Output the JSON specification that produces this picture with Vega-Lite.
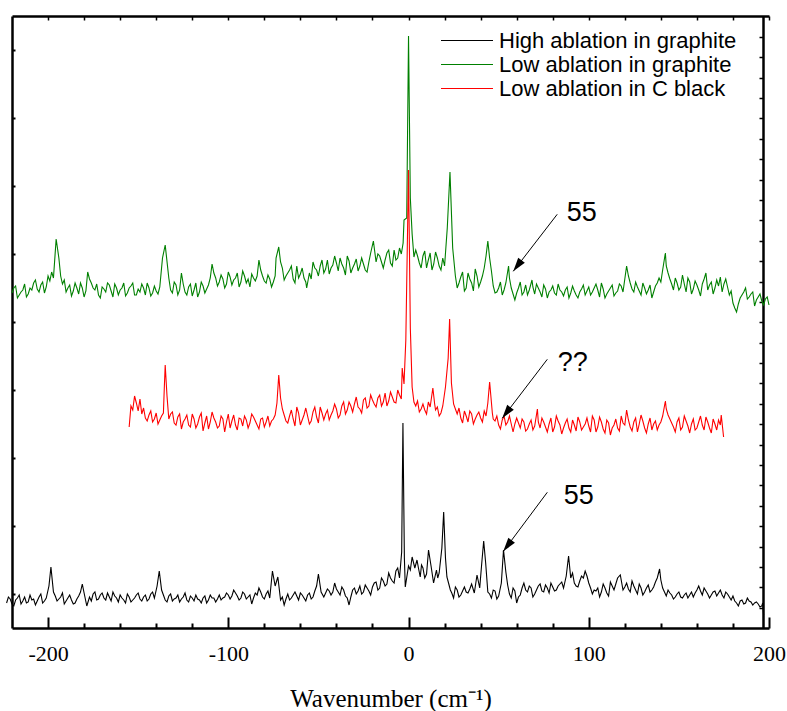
{
  "$schema": "https://vega.github.io/schema/vega-lite/v6.json",
  "width": 757,
  "height": 612,
  "autosize": "none",
  "padding": {"left": 12, "top": 16, "right": 18, "bottom": 83},
  "background": "white",
  "config": {
    "view": {"stroke": null},
    "axis": {"grid": false, "domainColor": "black", "tickColor": "black", "domainWidth": 2.5},
    "legend": {
      "orient": "none", "legendX": 428, "legendY": 13, "direction": "vertical",
      "symbolType": "stroke", "symbolSize": 2704, "symbolStrokeWidth": 1.2,
      "labelFont": "Liberation Sans", "labelFontSize": 22, "labelColor": "black", "labelLimit": 500,
      "labelOffset": 5, "clipHeight": 23, "rowPadding": 1, "padding": 0
    }
  },
  "datasets": {
    "spec": [
      {"s":"g","x":-220,"y":335},{"s":"g","x":-218,"y":342},{"s":"g","x":-216,"y":333},{"s":"g","x":-214,"y":338},{"s":"g","x":-212,"y":331},{"s":"g","x":-210,"y":340},{"s":"g","x":-208,"y":345},{"s":"g","x":-206,"y":339},{"s":"g","x":-204,"y":343},{"s":"g","x":-202,"y":335},{"s":"g","x":-200,"y":352},{"s":"g","x":-198,"y":356},{"s":"g","x":-197,"y":350},{"s":"g","x":-195.5,"y":389},{"s":"g","x":-194,"y":370},{"s":"g","x":-193,"y":352},{"s":"g","x":-191,"y":348},{"s":"g","x":-189,"y":340},{"s":"g","x":-187,"y":332},{"s":"g","x":-185,"y":345},{"s":"g","x":-183,"y":334},{"s":"g","x":-181,"y":340},{"s":"g","x":-179,"y":337},{"s":"g","x":-178,"y":356},{"s":"g","x":-176,"y":345},{"s":"g","x":-174,"y":338},{"s":"g","x":-172,"y":333},{"s":"g","x":-170,"y":341},{"s":"g","x":-168,"y":336},{"s":"g","x":-166,"y":343},{"s":"g","x":-164,"y":331},{"s":"g","x":-162,"y":340},{"s":"g","x":-160,"y":338},{"s":"g","x":-158,"y":345},{"s":"g","x":-156,"y":335},{"s":"g","x":-154,"y":342},{"s":"g","x":-152,"y":333},{"s":"g","x":-150,"y":339},{"s":"g","x":-148,"y":344},{"s":"g","x":-146,"y":333},{"s":"g","x":-144,"y":340},{"s":"g","x":-142,"y":335},{"s":"g","x":-140,"y":337},{"s":"g","x":-138,"y":341},{"s":"g","x":-136.5,"y":370},{"s":"g","x":-135,"y":383},{"s":"g","x":-133,"y":350},{"s":"g","x":-131,"y":335},{"s":"g","x":-129,"y":343},{"s":"g","x":-127,"y":338},{"s":"g","x":-126,"y":355},{"s":"g","x":-124,"y":336},{"s":"g","x":-122,"y":341},{"s":"g","x":-120,"y":332},{"s":"g","x":-118,"y":345},{"s":"g","x":-116,"y":336},{"s":"g","x":-114,"y":342},{"s":"g","x":-112,"y":339},{"s":"g","x":-110,"y":350},{"s":"g","x":-109,"y":364},{"s":"g","x":-107,"y":350},{"s":"g","x":-105,"y":346},{"s":"g","x":-103,"y":349},{"s":"g","x":-101,"y":344},{"s":"g","x":-99,"y":351},{"s":"g","x":-97,"y":348},{"s":"g","x":-95,"y":355},{"s":"g","x":-93,"y":346},{"s":"g","x":-91,"y":352},{"s":"g","x":-89,"y":349},{"s":"g","x":-87,"y":354},{"s":"g","x":-85,"y":347},{"s":"g","x":-83,"y":368},{"s":"g","x":-81,"y":352},{"s":"g","x":-79,"y":345},{"s":"g","x":-77,"y":349},{"s":"g","x":-75,"y":346},{"s":"g","x":-73.5,"y":370},{"s":"g","x":-72,"y":381},{"s":"g","x":-70,"y":360},{"s":"g","x":-68,"y":352},{"s":"g","x":-66,"y":358},{"s":"g","x":-64,"y":349},{"s":"g","x":-62,"y":362},{"s":"g","x":-60,"y":354},{"s":"g","x":-58,"y":350},{"s":"g","x":-56.5,"y":340},{"s":"g","x":-55,"y":355},{"s":"g","x":-53,"y":366},{"s":"g","x":-51,"y":358},{"s":"g","x":-49,"y":362},{"s":"g","x":-47,"y":355},{"s":"g","x":-45,"y":368},{"s":"g","x":-43,"y":360},{"s":"g","x":-41,"y":372},{"s":"g","x":-39,"y":357},{"s":"g","x":-37,"y":364},{"s":"g","x":-35,"y":353},{"s":"g","x":-33,"y":367},{"s":"g","x":-31,"y":360},{"s":"g","x":-29,"y":369},{"s":"g","x":-27,"y":362},{"s":"g","x":-25,"y":364},{"s":"g","x":-23,"y":356},{"s":"g","x":-21,"y":375},{"s":"g","x":-19.5,"y":387},{"s":"g","x":-18,"y":366},{"s":"g","x":-16,"y":372},{"s":"g","x":-14,"y":360},{"s":"g","x":-12,"y":375},{"s":"g","x":-10,"y":365},{"s":"g","x":-8,"y":378},{"s":"g","x":-6,"y":370},{"s":"g","x":-4,"y":374},{"s":"g","x":-2.5,"y":408},{"s":"g","x":-1,"y":410},{"s":"g","x":0,"y":592},{"s":"g","x":1,"y":430},{"s":"g","x":2,"y":394},{"s":"g","x":4,"y":378},{"s":"g","x":6,"y":365},{"s":"g","x":8,"y":372},{"s":"g","x":10,"y":360},{"s":"g","x":12,"y":375},{"s":"g","x":14,"y":364},{"s":"g","x":16,"y":370},{"s":"g","x":18,"y":358},{"s":"g","x":20,"y":362},{"s":"g","x":21.5,"y":400},{"s":"g","x":23,"y":456},{"s":"g","x":24.5,"y":380},{"s":"g","x":26,"y":352},{"s":"g","x":28,"y":345},{"s":"g","x":30,"y":356},{"s":"g","x":32,"y":340},{"s":"g","x":34,"y":349},{"s":"g","x":36,"y":337},{"s":"g","x":38,"y":352},{"s":"g","x":40,"y":346},{"s":"g","x":42,"y":360},{"s":"g","x":44,"y":387},{"s":"g","x":46,"y":357},{"s":"g","x":48,"y":335},{"s":"g","x":50,"y":340},{"s":"g","x":52,"y":333},{"s":"g","x":54,"y":345},{"s":"g","x":55.5,"y":362},{"s":"g","x":57,"y":340},{"s":"g","x":59,"y":328},{"s":"g","x":61,"y":340},{"s":"g","x":63,"y":333},{"s":"g","x":65,"y":343},{"s":"g","x":67,"y":338},{"s":"g","x":68.5,"y":348},{"s":"g","x":70,"y":334},{"s":"g","x":72,"y":340},{"s":"g","x":74,"y":331},{"s":"g","x":76,"y":339},{"s":"g","x":78,"y":336},{"s":"g","x":80,"y":342},{"s":"g","x":82,"y":333},{"s":"g","x":84,"y":338},{"s":"g","x":86,"y":332},{"s":"g","x":88,"y":341},{"s":"g","x":90,"y":335},{"s":"g","x":92,"y":337},{"s":"g","x":94,"y":330},{"s":"g","x":96,"y":339},{"s":"g","x":98,"y":333},{"s":"g","x":100,"y":341},{"s":"g","x":102,"y":336},{"s":"g","x":104,"y":344},{"s":"g","x":106,"y":331},{"s":"g","x":108,"y":339},{"s":"g","x":110,"y":334},{"s":"g","x":112,"y":340},{"s":"g","x":114,"y":332},{"s":"g","x":116,"y":337},{"s":"g","x":118,"y":342},{"s":"g","x":120,"y":349},{"s":"g","x":121,"y":362},{"s":"g","x":123,"y":345},{"s":"g","x":125,"y":336},{"s":"g","x":127,"y":341},{"s":"g","x":129,"y":333},{"s":"g","x":131,"y":340},{"s":"g","x":133,"y":338},{"s":"g","x":135,"y":330},{"s":"g","x":137,"y":342},{"s":"g","x":139,"y":350},{"s":"g","x":141,"y":358},{"s":"g","x":142.5,"y":375},{"s":"g","x":144,"y":355},{"s":"g","x":146,"y":344},{"s":"g","x":148,"y":350},{"s":"g","x":150,"y":338},{"s":"g","x":152,"y":353},{"s":"g","x":154,"y":336},{"s":"g","x":156,"y":346},{"s":"g","x":158,"y":339},{"s":"g","x":160,"y":343},{"s":"g","x":162,"y":332},{"s":"g","x":164,"y":349},{"s":"g","x":166,"y":338},{"s":"g","x":168,"y":346},{"s":"g","x":170,"y":340},{"s":"g","x":172,"y":342},{"s":"g","x":174,"y":336},{"s":"g","x":176,"y":349},{"s":"g","x":178,"y":333},{"s":"g","x":180,"y":325},{"s":"g","x":182,"y":316},{"s":"g","x":184,"y":330},{"s":"g","x":186,"y":336},{"s":"g","x":188,"y":329},{"s":"g","x":190,"y":334},{"s":"g","x":192,"y":322},{"s":"g","x":194,"y":331},{"s":"g","x":196,"y":327},{"s":"g","x":198,"y":329},{"s":"g","x":200,"y":323},
      {"s":"g","x":-219,"y":340},{"s":"g","x":-217,"y":330},{"s":"g","x":-215,"y":336},{"s":"g","x":-213,"y":344},{"s":"g","x":-211,"y":334},{"s":"g","x":-209,"y":338},{"s":"g","x":-207,"y":348},{"s":"g","x":-205,"y":336},{"s":"g","x":-203,"y":346},{"s":"g","x":-201,"y":341},{"s":"g","x":-199,"y":347},{"s":"g","x":-192,"y":344},{"s":"g","x":-190,"y":336},{"s":"g","x":-188,"y":343},{"s":"g","x":-186,"y":337},{"s":"g","x":-184,"y":340},{"s":"g","x":-182,"y":345},{"s":"g","x":-180,"y":331},{"s":"g","x":-177,"y":349},{"s":"g","x":-175,"y":340},{"s":"g","x":-173,"y":344},{"s":"g","x":-171,"y":330},{"s":"g","x":-169,"y":339},{"s":"g","x":-167,"y":345},{"s":"g","x":-165,"y":337},{"s":"g","x":-163,"y":344},{"s":"g","x":-161,"y":333},{"s":"g","x":-159,"y":340},{"s":"g","x":-157,"y":332},{"s":"g","x":-155,"y":340},{"s":"g","x":-153,"y":345},{"s":"g","x":-151,"y":333},{"s":"g","x":-149,"y":336},{"s":"g","x":-147,"y":340},{"s":"g","x":-145,"y":345},{"s":"g","x":-143,"y":332},{"s":"g","x":-141,"y":342},{"s":"g","x":-139,"y":334},{"s":"g","x":-132,"y":338},{"s":"g","x":-130,"y":346},{"s":"g","x":-128,"y":333},{"s":"g","x":-125,"y":344},{"s":"g","x":-123,"y":333},{"s":"g","x":-121,"y":344},{"s":"g","x":-119,"y":338},{"s":"g","x":-117,"y":331},{"s":"g","x":-115,"y":346},{"s":"g","x":-113,"y":335},{"s":"g","x":-111,"y":343},{"s":"g","x":-108,"y":355},{"s":"g","x":-106,"y":342},{"s":"g","x":-104,"y":353},{"s":"g","x":-102,"y":340},{"s":"g","x":-100,"y":356},{"s":"g","x":-98,"y":343},{"s":"g","x":-96,"y":350},{"s":"g","x":-94,"y":341},{"s":"g","x":-92,"y":357},{"s":"g","x":-90,"y":345},{"s":"g","x":-88,"y":341},{"s":"g","x":-86,"y":350},{"s":"g","x":-84,"y":352},{"s":"g","x":-82,"y":358},{"s":"g","x":-80,"y":347},{"s":"g","x":-78,"y":353},{"s":"g","x":-76,"y":341},{"s":"g","x":-74,"y":352},{"s":"g","x":-71,"y":366},{"s":"g","x":-69,"y":348},{"s":"g","x":-67,"y":355},{"s":"g","x":-65,"y":362},{"s":"g","x":-63,"y":345},{"s":"g","x":-61,"y":350},{"s":"g","x":-59,"y":360},{"s":"g","x":-57,"y":346},{"s":"g","x":-54,"y":349},{"s":"g","x":-52,"y":360},{"s":"g","x":-50,"y":352},{"s":"g","x":-48,"y":368},{"s":"g","x":-46,"y":359},{"s":"g","x":-44,"y":354},{"s":"g","x":-42,"y":363},{"s":"g","x":-40,"y":365},{"s":"g","x":-38,"y":370},{"s":"g","x":-36,"y":360},{"s":"g","x":-34,"y":372},{"s":"g","x":-32,"y":355},{"s":"g","x":-30,"y":364},{"s":"g","x":-28,"y":357},{"s":"g","x":-26,"y":370},{"s":"g","x":-24,"y":358},{"s":"g","x":-22,"y":366},{"s":"g","x":-17,"y":374},{"s":"g","x":-15,"y":366},{"s":"g","x":-13,"y":368},{"s":"g","x":-11,"y":378},{"s":"g","x":-9,"y":362},{"s":"g","x":-7,"y":368},{"s":"g","x":-5,"y":380},{"s":"g","x":-3,"y":385},{"s":"g","x":3,"y":371},{"s":"g","x":5,"y":372},{"s":"g","x":7,"y":360},{"s":"g","x":9,"y":377},{"s":"g","x":11,"y":368},{"s":"g","x":13,"y":358},{"s":"g","x":15,"y":376},{"s":"g","x":17,"y":362},{"s":"g","x":19,"y":370},{"s":"g","x":27,"y":340},{"s":"g","x":29,"y":351},{"s":"g","x":31,"y":337},{"s":"g","x":33,"y":355},{"s":"g","x":35,"y":345},{"s":"g","x":37,"y":359},{"s":"g","x":39,"y":341},{"s":"g","x":41,"y":352},{"s":"g","x":43,"y":372},{"s":"g","x":45,"y":370},{"s":"g","x":47,"y":342},{"s":"g","x":49,"y":336},{"s":"g","x":51,"y":346},{"s":"g","x":53,"y":338},{"s":"g","x":56,"y":350},{"s":"g","x":58,"y":334},{"s":"g","x":60,"y":335},{"s":"g","x":62,"y":346},{"s":"g","x":64,"y":336},{"s":"g","x":66,"y":333},{"s":"g","x":69,"y":341},{"s":"g","x":71,"y":344},{"s":"g","x":73,"y":336},{"s":"g","x":75,"y":343},{"s":"g","x":77,"y":330},{"s":"g","x":79,"y":338},{"s":"g","x":81,"y":335},{"s":"g","x":83,"y":344},{"s":"g","x":85,"y":336},{"s":"g","x":87,"y":338},{"s":"g","x":89,"y":330},{"s":"g","x":91,"y":342},{"s":"g","x":93,"y":333},{"s":"g","x":95,"y":336},{"s":"g","x":97,"y":343},{"s":"g","x":99,"y":337},{"s":"g","x":101,"y":333},{"s":"g","x":103,"y":340},{"s":"g","x":105,"y":338},{"s":"g","x":107,"y":345},{"s":"g","x":109,"y":330},{"s":"g","x":111,"y":337},{"s":"g","x":113,"y":343},{"s":"g","x":115,"y":335},{"s":"g","x":117,"y":344},{"s":"g","x":119,"y":336},{"s":"g","x":122,"y":352},{"s":"g","x":124,"y":339},{"s":"g","x":126,"y":346},{"s":"g","x":128,"y":337},{"s":"g","x":130,"y":345},{"s":"g","x":132,"y":334},{"s":"g","x":134,"y":343},{"s":"g","x":136,"y":336},{"s":"g","x":138,"y":345},{"s":"g","x":140,"y":346},{"s":"g","x":143,"y":362},{"s":"g","x":145,"y":349},{"s":"g","x":147,"y":338},{"s":"g","x":149,"y":345},{"s":"g","x":151,"y":341},{"s":"g","x":153,"y":344},{"s":"g","x":155,"y":350},{"s":"g","x":157,"y":334},{"s":"g","x":159,"y":347},{"s":"g","x":161,"y":338},{"s":"g","x":163,"y":344},{"s":"g","x":165,"y":355},{"s":"g","x":167,"y":343},{"s":"g","x":169,"y":334},{"s":"g","x":171,"y":348},{"s":"g","x":173,"y":351},{"s":"g","x":175,"y":344},{"s":"g","x":177,"y":341},{"s":"g","x":179,"y":337},{"s":"g","x":181,"y":320},{"s":"g","x":183,"y":324},{"s":"g","x":185,"y":333},{"s":"g","x":187,"y":340},{"s":"g","x":189,"y":331},{"s":"g","x":191,"y":336},{"s":"g","x":193,"y":328},{"s":"g","x":195,"y":334},{"s":"g","x":197,"y":323},{"s":"g","x":199,"y":331},
      {"s":"r","x":-155,"y":201},{"s":"r","x":-154,"y":222},{"s":"r","x":-153,"y":218},{"s":"r","x":-152,"y":232},{"s":"r","x":-151,"y":225},{"s":"r","x":-150,"y":217},{"s":"r","x":-149,"y":229},{"s":"r","x":-148,"y":214},{"s":"r","x":-146,"y":210},{"s":"r","x":-144,"y":213},{"s":"r","x":-142,"y":206},{"s":"r","x":-140,"y":215},{"s":"r","x":-138,"y":208},{"s":"r","x":-137,"y":212},{"s":"r","x":-135.5,"y":240},{"s":"r","x":-135,"y":263},{"s":"r","x":-134,"y":232},{"s":"r","x":-132,"y":214},{"s":"r","x":-130,"y":205},{"s":"r","x":-128,"y":211},{"s":"r","x":-126,"y":199},{"s":"r","x":-124,"y":209},{"s":"r","x":-122,"y":203},{"s":"r","x":-120,"y":214},{"s":"r","x":-118,"y":200},{"s":"r","x":-116,"y":211},{"s":"r","x":-114,"y":197},{"s":"r","x":-112,"y":212},{"s":"r","x":-110,"y":206},{"s":"r","x":-108,"y":210},{"s":"r","x":-106,"y":200},{"s":"r","x":-104,"y":212},{"s":"r","x":-102,"y":196},{"s":"r","x":-100,"y":214},{"s":"r","x":-98,"y":207},{"s":"r","x":-96,"y":203},{"s":"r","x":-94,"y":210},{"s":"r","x":-92,"y":202},{"s":"r","x":-90,"y":208},{"s":"r","x":-88,"y":205},{"s":"r","x":-86,"y":211},{"s":"r","x":-84,"y":203},{"s":"r","x":-82,"y":209},{"s":"r","x":-80,"y":201},{"s":"r","x":-78,"y":212},{"s":"r","x":-76,"y":207},{"s":"r","x":-74,"y":213},{"s":"r","x":-73,"y":225},{"s":"r","x":-72,"y":253},{"s":"r","x":-71,"y":230},{"s":"r","x":-69,"y":213},{"s":"r","x":-67,"y":205},{"s":"r","x":-65,"y":218},{"s":"r","x":-63,"y":202},{"s":"r","x":-61,"y":215},{"s":"r","x":-59,"y":208},{"s":"r","x":-57,"y":220},{"s":"r","x":-55,"y":204},{"s":"r","x":-53,"y":216},{"s":"r","x":-51,"y":211},{"s":"r","x":-49,"y":221},{"s":"r","x":-47,"y":208},{"s":"r","x":-45,"y":218},{"s":"r","x":-43,"y":213},{"s":"r","x":-41,"y":224},{"s":"r","x":-39,"y":210},{"s":"r","x":-37,"y":222},{"s":"r","x":-35,"y":214},{"s":"r","x":-33,"y":226},{"s":"r","x":-31,"y":216},{"s":"r","x":-29,"y":231},{"s":"r","x":-27,"y":219},{"s":"r","x":-25,"y":228},{"s":"r","x":-23,"y":220},{"s":"r","x":-21,"y":233},{"s":"r","x":-19,"y":224},{"s":"r","x":-17,"y":230},{"s":"r","x":-15,"y":222},{"s":"r","x":-13,"y":235},{"s":"r","x":-11,"y":227},{"s":"r","x":-9,"y":231},{"s":"r","x":-7,"y":225},{"s":"r","x":-5,"y":233},{"s":"r","x":-3.5,"y":260},{"s":"r","x":-2.5,"y":244},{"s":"r","x":-1.5,"y":288},{"s":"r","x":0,"y":458},{"s":"r","x":1,"y":300},{"s":"r","x":2,"y":241},{"s":"r","x":4,"y":222},{"s":"r","x":6,"y":216},{"s":"r","x":8,"y":224},{"s":"r","x":10,"y":214},{"s":"r","x":12,"y":221},{"s":"r","x":13.5,"y":240},{"s":"r","x":15,"y":218},{"s":"r","x":17,"y":212},{"s":"r","x":19,"y":222},{"s":"r","x":20.5,"y":241},{"s":"r","x":22,"y":270},{"s":"r","x":22.8,"y":309},{"s":"r","x":23.8,"y":245},{"s":"r","x":25,"y":224},{"s":"r","x":27,"y":214},{"s":"r","x":29,"y":210},{"s":"r","x":31,"y":217},{"s":"r","x":33,"y":206},{"s":"r","x":35,"y":214},{"s":"r","x":37,"y":209},{"s":"r","x":39,"y":216},{"s":"r","x":41,"y":206},{"s":"r","x":43,"y":212},{"s":"r","x":44,"y":225},{"s":"r","x":45,"y":246},{"s":"r","x":46.5,"y":215},{"s":"r","x":48,"y":207},{"s":"r","x":50,"y":203},{"s":"r","x":52,"y":208},{"s":"r","x":54,"y":203},{"s":"r","x":56,"y":212},{"s":"r","x":58,"y":196},{"s":"r","x":60,"y":210},{"s":"r","x":62,"y":200},{"s":"r","x":64,"y":206},{"s":"r","x":66,"y":199},{"s":"r","x":68,"y":208},{"s":"r","x":70,"y":202},{"s":"r","x":71.5,"y":219},{"s":"r","x":73,"y":200},{"s":"r","x":75,"y":206},{"s":"r","x":77,"y":196},{"s":"r","x":79,"y":210},{"s":"r","x":81,"y":201},{"s":"r","x":83,"y":207},{"s":"r","x":85,"y":194},{"s":"r","x":87,"y":205},{"s":"r","x":89,"y":200},{"s":"r","x":91,"y":208},{"s":"r","x":93,"y":197},{"s":"r","x":95,"y":206},{"s":"r","x":97,"y":201},{"s":"r","x":99,"y":210},{"s":"r","x":101,"y":196},{"s":"r","x":103,"y":208},{"s":"r","x":105,"y":201},{"s":"r","x":107,"y":206},{"s":"r","x":109,"y":195},{"s":"r","x":111,"y":205},{"s":"r","x":113,"y":200},{"s":"r","x":115,"y":209},{"s":"r","x":117,"y":197},{"s":"r","x":119,"y":205},{"s":"r","x":121,"y":218},{"s":"r","x":123,"y":201},{"s":"r","x":125,"y":206},{"s":"r","x":127,"y":196},{"s":"r","x":129,"y":213},{"s":"r","x":131,"y":200},{"s":"r","x":133,"y":204},{"s":"r","x":135,"y":198},{"s":"r","x":137,"y":207},{"s":"r","x":139,"y":203},{"s":"r","x":141,"y":212},{"s":"r","x":142.5,"y":227},{"s":"r","x":144,"y":213},{"s":"r","x":146,"y":205},{"s":"r","x":148,"y":196},{"s":"r","x":150,"y":210},{"s":"r","x":152,"y":201},{"s":"r","x":154,"y":207},{"s":"r","x":156,"y":195},{"s":"r","x":158,"y":209},{"s":"r","x":160,"y":200},{"s":"r","x":162,"y":212},{"s":"r","x":164,"y":198},{"s":"r","x":166,"y":206},{"s":"r","x":168,"y":195},{"s":"r","x":170,"y":204},{"s":"r","x":172,"y":208},{"s":"r","x":173.5,"y":213},{"s":"r","x":174.8,"y":191},
      {"s":"r","x":-147,"y":220},{"s":"r","x":-145,"y":207},{"s":"r","x":-143,"y":217},{"s":"r","x":-141,"y":209},{"s":"r","x":-139,"y":204},{"s":"r","x":-136,"y":215},{"s":"r","x":-133,"y":209},{"s":"r","x":-131,"y":216},{"s":"r","x":-129,"y":203},{"s":"r","x":-127,"y":214},{"s":"r","x":-125,"y":206},{"s":"r","x":-123,"y":213},{"s":"r","x":-121,"y":201},{"s":"r","x":-119,"y":209},{"s":"r","x":-117,"y":204},{"s":"r","x":-115,"y":215},{"s":"r","x":-113,"y":205},{"s":"r","x":-111,"y":199},{"s":"r","x":-109,"y":216},{"s":"r","x":-107,"y":206},{"s":"r","x":-105,"y":202},{"s":"r","x":-103,"y":209},{"s":"r","x":-101,"y":206},{"s":"r","x":-99,"y":200},{"s":"r","x":-97,"y":213},{"s":"r","x":-95,"y":198},{"s":"r","x":-93,"y":209},{"s":"r","x":-91,"y":212},{"s":"r","x":-89,"y":200},{"s":"r","x":-87,"y":214},{"s":"r","x":-85,"y":207},{"s":"r","x":-83,"y":199},{"s":"r","x":-81,"y":210},{"s":"r","x":-79,"y":206},{"s":"r","x":-77,"y":202},{"s":"r","x":-75,"y":209},{"s":"r","x":-70,"y":219},{"s":"r","x":-68,"y":207},{"s":"r","x":-66,"y":212},{"s":"r","x":-64,"y":209},{"s":"r","x":-62,"y":221},{"s":"r","x":-60,"y":203},{"s":"r","x":-58,"y":213},{"s":"r","x":-56,"y":212},{"s":"r","x":-54,"y":207},{"s":"r","x":-52,"y":221},{"s":"r","x":-50,"y":205},{"s":"r","x":-48,"y":215},{"s":"r","x":-46,"y":214},{"s":"r","x":-44,"y":208},{"s":"r","x":-42,"y":217},{"s":"r","x":-40,"y":219},{"s":"r","x":-38,"y":213},{"s":"r","x":-36,"y":226},{"s":"r","x":-34,"y":218},{"s":"r","x":-32,"y":222},{"s":"r","x":-30,"y":224},{"s":"r","x":-28,"y":221},{"s":"r","x":-26,"y":215},{"s":"r","x":-24,"y":230},{"s":"r","x":-22,"y":222},{"s":"r","x":-20,"y":228},{"s":"r","x":-18,"y":221},{"s":"r","x":-16,"y":233},{"s":"r","x":-14,"y":226},{"s":"r","x":-12,"y":222},{"s":"r","x":-10,"y":236},{"s":"r","x":-8,"y":226},{"s":"r","x":-6,"y":238},{"s":"r","x":-4,"y":229},{"s":"r","x":3,"y":226},{"s":"r","x":5,"y":227},{"s":"r","x":7,"y":219},{"s":"r","x":9,"y":218},{"s":"r","x":11,"y":226},{"s":"r","x":14.5,"y":224},{"s":"r","x":16,"y":221},{"s":"r","x":18,"y":215},{"s":"r","x":26,"y":219},{"s":"r","x":28,"y":220},{"s":"r","x":30,"y":205},{"s":"r","x":32,"y":212},{"s":"r","x":34,"y":217},{"s":"r","x":36,"y":204},{"s":"r","x":38,"y":213},{"s":"r","x":40,"y":210},{"s":"r","x":42,"y":217},{"s":"r","x":47,"y":209},{"s":"r","x":49,"y":212},{"s":"r","x":51,"y":199},{"s":"r","x":53,"y":212},{"s":"r","x":55,"y":206},{"s":"r","x":57,"y":204},{"s":"r","x":59,"y":204},{"s":"r","x":61,"y":205},{"s":"r","x":63,"y":209},{"s":"r","x":65,"y":197},{"s":"r","x":67,"y":204},{"s":"r","x":69,"y":198},{"s":"r","x":72,"y":206},{"s":"r","x":74,"y":210},{"s":"r","x":76,"y":201},{"s":"r","x":78,"y":204},{"s":"r","x":80,"y":196},{"s":"r","x":82,"y":212},{"s":"r","x":84,"y":203},{"s":"r","x":86,"y":200},{"s":"r","x":88,"y":209},{"s":"r","x":90,"y":196},{"s":"r","x":92,"y":203},{"s":"r","x":94,"y":211},{"s":"r","x":96,"y":198},{"s":"r","x":98,"y":204},{"s":"r","x":100,"y":202},{"s":"r","x":102,"y":212},{"s":"r","x":104,"y":196},{"s":"r","x":106,"y":211},{"s":"r","x":108,"y":199},{"s":"r","x":110,"y":208},{"s":"r","x":112,"y":193},{"s":"r","x":114,"y":203},{"s":"r","x":116,"y":200},{"s":"r","x":118,"y":212},{"s":"r","x":120,"y":203},{"s":"r","x":122,"y":208},{"s":"r","x":124,"y":197},{"s":"r","x":126,"y":210},{"s":"r","x":128,"y":204},{"s":"r","x":130,"y":207},{"s":"r","x":132,"y":195},{"s":"r","x":134,"y":210},{"s":"r","x":136,"y":204},{"s":"r","x":138,"y":198},{"s":"r","x":140,"y":206},{"s":"r","x":143,"y":219},{"s":"r","x":145,"y":209},{"s":"r","x":147,"y":201},{"s":"r","x":149,"y":206},{"s":"r","x":151,"y":198},{"s":"r","x":153,"y":212},{"s":"r","x":155,"y":202},{"s":"r","x":157,"y":204},{"s":"r","x":159,"y":198},{"s":"r","x":161,"y":206},{"s":"r","x":163,"y":203},{"s":"r","x":165,"y":211},{"s":"r","x":167,"y":200},{"s":"r","x":169,"y":209},{"s":"r","x":171,"y":198},{"s":"r","x":173,"y":203},
      {"s":"h","x":-223,"y":25},{"s":"h","x":-221,"y":29},{"s":"h","x":-219,"y":22},{"s":"h","x":-217,"y":30},{"s":"h","x":-215,"y":24},{"s":"h","x":-213,"y":31},{"s":"h","x":-211,"y":26},{"s":"h","x":-209,"y":28},{"s":"h","x":-207,"y":23},{"s":"h","x":-205,"y":31},{"s":"h","x":-203,"y":25},{"s":"h","x":-201,"y":30},{"s":"h","x":-199.5,"y":42},{"s":"h","x":-198.4,"y":61},{"s":"h","x":-197,"y":36},{"s":"h","x":-195,"y":27},{"s":"h","x":-193,"y":31},{"s":"h","x":-191,"y":24},{"s":"h","x":-189,"y":30},{"s":"h","x":-187,"y":28},{"s":"h","x":-185,"y":25},{"s":"h","x":-183,"y":32},{"s":"h","x":-181,"y":44},{"s":"h","x":-180,"y":35},{"s":"h","x":-178.5,"y":22},{"s":"h","x":-177,"y":31},{"s":"h","x":-175,"y":34},{"s":"h","x":-173,"y":28},{"s":"h","x":-171,"y":33},{"s":"h","x":-169,"y":30},{"s":"h","x":-167,"y":35},{"s":"h","x":-165,"y":27},{"s":"h","x":-163,"y":32},{"s":"h","x":-161,"y":26},{"s":"h","x":-159,"y":30},{"s":"h","x":-157,"y":25},{"s":"h","x":-155,"y":31},{"s":"h","x":-153,"y":28},{"s":"h","x":-151,"y":33},{"s":"h","x":-149,"y":29},{"s":"h","x":-147,"y":31},{"s":"h","x":-145,"y":27},{"s":"h","x":-143,"y":34},{"s":"h","x":-141,"y":30},{"s":"h","x":-139.5,"y":42},{"s":"h","x":-138.3,"y":57},{"s":"h","x":-137,"y":38},{"s":"h","x":-135,"y":28},{"s":"h","x":-133,"y":32},{"s":"h","x":-131,"y":27},{"s":"h","x":-129,"y":30},{"s":"h","x":-127,"y":26},{"s":"h","x":-125,"y":31},{"s":"h","x":-123,"y":28},{"s":"h","x":-121,"y":32},{"s":"h","x":-119,"y":27},{"s":"h","x":-117,"y":29},{"s":"h","x":-115,"y":25},{"s":"h","x":-113,"y":32},{"s":"h","x":-111,"y":28},{"s":"h","x":-109,"y":30},{"s":"h","x":-107,"y":26},{"s":"h","x":-105,"y":33},{"s":"h","x":-103,"y":30},{"s":"h","x":-101,"y":35},{"s":"h","x":-99,"y":29},{"s":"h","x":-97,"y":38},{"s":"h","x":-95,"y":32},{"s":"h","x":-93,"y":30},{"s":"h","x":-91,"y":34},{"s":"h","x":-89,"y":31},{"s":"h","x":-87,"y":24},{"s":"h","x":-85,"y":35},{"s":"h","x":-83,"y":40},{"s":"h","x":-81,"y":31},{"s":"h","x":-79,"y":34},{"s":"h","x":-77,"y":30},{"s":"h","x":-75.5,"y":57},{"s":"h","x":-74,"y":42},{"s":"h","x":-72.5,"y":51},{"s":"h","x":-71,"y":28},{"s":"h","x":-69,"y":23},{"s":"h","x":-67,"y":34},{"s":"h","x":-65,"y":30},{"s":"h","x":-63,"y":36},{"s":"h","x":-61,"y":28},{"s":"h","x":-59,"y":33},{"s":"h","x":-57,"y":27},{"s":"h","x":-55,"y":35},{"s":"h","x":-53,"y":31},{"s":"h","x":-51,"y":42},{"s":"h","x":-50,"y":54},{"s":"h","x":-48.5,"y":36},{"s":"h","x":-47,"y":31},{"s":"h","x":-45,"y":39},{"s":"h","x":-43,"y":33},{"s":"h","x":-41,"y":45},{"s":"h","x":-39,"y":36},{"s":"h","x":-37,"y":41},{"s":"h","x":-35,"y":32},{"s":"h","x":-33,"y":23},{"s":"h","x":-31,"y":38},{"s":"h","x":-29,"y":34},{"s":"h","x":-27,"y":42},{"s":"h","x":-25,"y":36},{"s":"h","x":-23,"y":40},{"s":"h","x":-21,"y":33},{"s":"h","x":-19,"y":45},{"s":"h","x":-17,"y":38},{"s":"h","x":-15,"y":50},{"s":"h","x":-13,"y":42},{"s":"h","x":-11,"y":55},{"s":"h","x":-9,"y":47},{"s":"h","x":-7,"y":57},{"s":"h","x":-5,"y":50},{"s":"h","x":-3.8,"y":76},{"s":"h","x":-3.1,"y":205},{"s":"h","x":-2.3,"y":70},{"s":"h","x":-1.8,"y":41},{"s":"h","x":0,"y":62},{"s":"h","x":2,"y":71},{"s":"h","x":3.5,"y":60},{"s":"h","x":4.7,"y":68},{"s":"h","x":6.5,"y":51},{"s":"h","x":8,"y":60},{"s":"h","x":10,"y":54},{"s":"h","x":11.1,"y":78},{"s":"h","x":12.5,"y":62},{"s":"h","x":13.9,"y":45},{"s":"h","x":15.5,"y":58},{"s":"h","x":17,"y":55},{"s":"h","x":18.5,"y":80},{"s":"h","x":19.5,"y":116},{"s":"h","x":20.5,"y":70},{"s":"h","x":21.3,"y":51},{"s":"h","x":23.2,"y":38},{"s":"h","x":25,"y":30},{"s":"h","x":27,"y":38},{"s":"h","x":29,"y":33},{"s":"h","x":31,"y":41},{"s":"h","x":33,"y":35},{"s":"h","x":35,"y":44},{"s":"h","x":36.5,"y":35},{"s":"h","x":38,"y":53},{"s":"h","x":39.5,"y":40},{"s":"h","x":40.5,"y":62},{"s":"h","x":41.7,"y":87},{"s":"h","x":42.8,"y":65},{"s":"h","x":44,"y":36},{"s":"h","x":46,"y":30},{"s":"h","x":48,"y":37},{"s":"h","x":50,"y":32},{"s":"h","x":51.5,"y":45},{"s":"h","x":52.7,"y":78},{"s":"h","x":54,"y":56},{"s":"h","x":56,"y":34},{"s":"h","x":58,"y":40},{"s":"h","x":60,"y":25},{"s":"h","x":62,"y":33},{"s":"h","x":64,"y":45},{"s":"h","x":66,"y":36},{"s":"h","x":68,"y":40},{"s":"h","x":70,"y":34},{"s":"h","x":72,"y":42},{"s":"h","x":74,"y":37},{"s":"h","x":76,"y":43},{"s":"h","x":78,"y":35},{"s":"h","x":80,"y":41},{"s":"h","x":82,"y":38},{"s":"h","x":84,"y":44},{"s":"h","x":86,"y":40},{"s":"h","x":87.5,"y":52},{"s":"h","x":88.8,"y":72},{"s":"h","x":90,"y":50},{"s":"h","x":92,"y":45},{"s":"h","x":94,"y":41},{"s":"h","x":96,"y":52},{"s":"h","x":98,"y":57},{"s":"h","x":100,"y":45},{"s":"h","x":102,"y":34},{"s":"h","x":104,"y":37},{"s":"h","x":106,"y":31},{"s":"h","x":108,"y":44},{"s":"h","x":110,"y":35},{"s":"h","x":112,"y":46},{"s":"h","x":114,"y":38},{"s":"h","x":116,"y":50},{"s":"h","x":117.5,"y":53},{"s":"h","x":119,"y":38},{"s":"h","x":121,"y":45},{"s":"h","x":123,"y":36},{"s":"h","x":125,"y":42},{"s":"h","x":127,"y":34},{"s":"h","x":129,"y":40},{"s":"h","x":131,"y":36},{"s":"h","x":133,"y":43},{"s":"h","x":135,"y":38},{"s":"h","x":137,"y":46},{"s":"h","x":139.3,"y":59},{"s":"h","x":141,"y":40},{"s":"h","x":143,"y":32},{"s":"h","x":145,"y":35},{"s":"h","x":147,"y":29},{"s":"h","x":149,"y":34},{"s":"h","x":151,"y":31},{"s":"h","x":153,"y":33},{"s":"h","x":155,"y":30},{"s":"h","x":157,"y":36},{"s":"h","x":159,"y":35},{"s":"h","x":161,"y":42},{"s":"h","x":163,"y":33},{"s":"h","x":165,"y":37},{"s":"h","x":167,"y":30},{"s":"h","x":169,"y":36},{"s":"h","x":171,"y":32},{"s":"h","x":173,"y":38},{"s":"h","x":175,"y":30},{"s":"h","x":177,"y":34},{"s":"h","x":179,"y":28},{"s":"h","x":181,"y":27},{"s":"h","x":183,"y":22},{"s":"h","x":185,"y":28},{"s":"h","x":187,"y":25},{"s":"h","x":189,"y":27},{"s":"h","x":191,"y":23},{"s":"h","x":193,"y":26},{"s":"h","x":195,"y":21},{"s":"h","x":196.5,"y":25},{"s":"h","x":197,"y":13},
      {"s":"h","x":-222,"y":31},{"s":"h","x":-220,"y":24},{"s":"h","x":-218,"y":28},{"s":"h","x":-216,"y":33},{"s":"h","x":-214,"y":27},{"s":"h","x":-212,"y":25},{"s":"h","x":-210,"y":33},{"s":"h","x":-208,"y":29},{"s":"h","x":-206,"y":27},{"s":"h","x":-204,"y":34},{"s":"h","x":-202,"y":27},{"s":"h","x":-196,"y":32},{"s":"h","x":-194,"y":29},{"s":"h","x":-192,"y":35},{"s":"h","x":-190,"y":27},{"s":"h","x":-188,"y":33},{"s":"h","x":-186,"y":24},{"s":"h","x":-184,"y":29},{"s":"h","x":-182,"y":36},{"s":"h","x":-176,"y":27},{"s":"h","x":-174,"y":36},{"s":"h","x":-172,"y":29},{"s":"h","x":-170,"y":35},{"s":"h","x":-168,"y":28},{"s":"h","x":-166,"y":31},{"s":"h","x":-164,"y":36},{"s":"h","x":-162,"y":30},{"s":"h","x":-160,"y":33},{"s":"h","x":-158,"y":28},{"s":"h","x":-156,"y":34},{"s":"h","x":-154,"y":26},{"s":"h","x":-152,"y":30},{"s":"h","x":-150,"y":35},{"s":"h","x":-148,"y":27},{"s":"h","x":-146,"y":33},{"s":"h","x":-144,"y":29},{"s":"h","x":-142,"y":36},{"s":"h","x":-136,"y":33},{"s":"h","x":-134,"y":26},{"s":"h","x":-132,"y":34},{"s":"h","x":-130,"y":29},{"s":"h","x":-128,"y":33},{"s":"h","x":-126,"y":29},{"s":"h","x":-124,"y":35},{"s":"h","x":-122,"y":26},{"s":"h","x":-120,"y":30},{"s":"h","x":-118,"y":33},{"s":"h","x":-116,"y":28},{"s":"h","x":-114,"y":30},{"s":"h","x":-112,"y":25},{"s":"h","x":-110,"y":33},{"s":"h","x":-108,"y":30},{"s":"h","x":-106,"y":29},{"s":"h","x":-104,"y":28},{"s":"h","x":-102,"y":31},{"s":"h","x":-100,"y":33},{"s":"h","x":-98,"y":32},{"s":"h","x":-96,"y":35},{"s":"h","x":-94,"y":28},{"s":"h","x":-92,"y":36},{"s":"h","x":-90,"y":29},{"s":"h","x":-88,"y":33},{"s":"h","x":-86,"y":30},{"s":"h","x":-84,"y":33},{"s":"h","x":-82,"y":36},{"s":"h","x":-80,"y":29},{"s":"h","x":-78,"y":37},{"s":"h","x":-70,"y":31},{"s":"h","x":-68,"y":29},{"s":"h","x":-66,"y":28},{"s":"h","x":-64,"y":33},{"s":"h","x":-62,"y":32},{"s":"h","x":-60,"y":35},{"s":"h","x":-58,"y":30},{"s":"h","x":-56,"y":33},{"s":"h","x":-54,"y":29},{"s":"h","x":-52,"y":37},{"s":"h","x":-46,"y":35},{"s":"h","x":-44,"y":37},{"s":"h","x":-42,"y":36},{"s":"h","x":-40,"y":39},{"s":"h","x":-38,"y":33},{"s":"h","x":-36,"y":38},{"s":"h","x":-34,"y":30},{"s":"h","x":-32,"y":31},{"s":"h","x":-30,"y":40},{"s":"h","x":-28,"y":37},{"s":"h","x":-26,"y":34},{"s":"h","x":-24,"y":43},{"s":"h","x":-22,"y":37},{"s":"h","x":-20,"y":41},{"s":"h","x":-18,"y":46},{"s":"h","x":-16,"y":40},{"s":"h","x":-14,"y":47},{"s":"h","x":-12,"y":44},{"s":"h","x":-10,"y":50},{"s":"h","x":-8,"y":45},{"s":"h","x":-6,"y":60},{"s":"h","x":1,"y":58},{"s":"h","x":5.5,"y":60},{"s":"h","x":7.2,"y":63},{"s":"h","x":9,"y":50},{"s":"h","x":16.2,"y":50},{"s":"h","x":22.2,"y":45},{"s":"h","x":24,"y":35},{"s":"h","x":26,"y":41},{"s":"h","x":28,"y":31},{"s":"h","x":30,"y":37},{"s":"h","x":32,"y":36},{"s":"h","x":34,"y":39},{"s":"h","x":45,"y":34},{"s":"h","x":47,"y":38},{"s":"h","x":49,"y":29},{"s":"h","x":55,"y":43},{"s":"h","x":57,"y":30},{"s":"h","x":59,"y":37},{"s":"h","x":61,"y":31},{"s":"h","x":63,"y":40},{"s":"h","x":65,"y":38},{"s":"h","x":67,"y":42},{"s":"h","x":69,"y":31},{"s":"h","x":71,"y":38},{"s":"h","x":73,"y":44},{"s":"h","x":75,"y":36},{"s":"h","x":77,"y":40},{"s":"h","x":79,"y":45},{"s":"h","x":81,"y":37},{"s":"h","x":83,"y":42},{"s":"h","x":85,"y":46},{"s":"h","x":91,"y":55},{"s":"h","x":93,"y":42},{"s":"h","x":95,"y":47},{"s":"h","x":97,"y":50},{"s":"h","x":99,"y":52},{"s":"h","x":101,"y":40},{"s":"h","x":103,"y":38},{"s":"h","x":105,"y":40},{"s":"h","x":107,"y":36},{"s":"h","x":109,"y":40},{"s":"h","x":111,"y":32},{"s":"h","x":113,"y":42},{"s":"h","x":115,"y":44},{"s":"h","x":120,"y":41},{"s":"h","x":122,"y":39},{"s":"h","x":124,"y":47},{"s":"h","x":126,"y":38},{"s":"h","x":128,"y":44},{"s":"h","x":130,"y":33},{"s":"h","x":132,"y":40},{"s":"h","x":134,"y":36},{"s":"h","x":136,"y":41},{"s":"h","x":138,"y":50},{"s":"h","x":140,"y":48},{"s":"h","x":142,"y":36},{"s":"h","x":144,"y":38},{"s":"h","x":146,"y":33},{"s":"h","x":148,"y":31},{"s":"h","x":150,"y":36},{"s":"h","x":152,"y":30},{"s":"h","x":154,"y":35},{"s":"h","x":156,"y":33},{"s":"h","x":158,"y":31},{"s":"h","x":160,"y":38},{"s":"h","x":162,"y":37},{"s":"h","x":164,"y":40},{"s":"h","x":166,"y":34},{"s":"h","x":168,"y":33},{"s":"h","x":170,"y":37},{"s":"h","x":172,"y":35},{"s":"h","x":174,"y":33},{"s":"h","x":176,"y":36},{"s":"h","x":178,"y":31},{"s":"h","x":180,"y":32},{"s":"h","x":182,"y":25},{"s":"h","x":184,"y":27},{"s":"h","x":186,"y":24},{"s":"h","x":188,"y":30},{"s":"h","x":190,"y":26},{"s":"h","x":192,"y":25},{"s":"h","x":194,"y":24},{"s":"h","x":196,"y":22}
    ],
    "arrows": [
      {"x":82.5,"y":413.7,"x2":58.1,"y2":356.7},
      {"x":77,"y":268.7,"x2":52,"y2":209.7},
      {"x":77,"y":135.7,"x2":52.6,"y2":76.7}
    ],
    "heads": [
      {"x":60.4,"y":362.2},
      {"x":54.3,"y":215.2},
      {"x":54.9,"y":82.2}
    ],
    "labels": [
      {"x":96.1,"y":414.7,"t":"55"},
      {"x":91.1,"y":264.7,"t":"??"},
      {"x":94.5,"y":131.7,"t":"55"}
    ]
  },
  "layer": [
    {
      "data": {"name": "spec"},
      "mark": {"type": "line", "strokeWidth": 1.1},
      "encoding": {
        "x": {
          "field": "x", "type": "quantitative",
          "scale": {"domain": [-220, 200], "nice": false, "zero": false},
          "axis": {
            "orient": "bottom", "domainColor": "black", "domainWidth": 2.5,
            "values": [-200,-180,-160,-140,-120,-100,-80,-60,-40,-20,0,20,40,60,80,100,120,140,160,180,200],
            "tickSize": {"condition": {"test": "datum.value % 100 === 0", "value": -11}, "value": -5},
            "tickWidth": 2, "tickColor": "black",
            "labelExpr": "datum.value % 100 === 0 ? '' + datum.value : ''",
            "labelFont": "Liberation Serif", "labelFontSize": 22, "labelColor": "black",
            "labelPadding": 26, "labelFlush": false, "labelOverlap": false,
            "title": "Wavenumber (cm\u207b\u00b9)",
            "titleFont": "Liberation Serif", "titleFontSize": 25, "titleFontWeight": "normal",
            "titleColor": "black", "titlePadding": 16
          }
        },
        "y": {
          "field": "y", "type": "quantitative",
          "scale": {"domain": [0, 612], "nice": false, "zero": false},
          "axis": {
            "orient": "left", "title": null, "labels": false, "domainColor": "black", "domainWidth": 2.5,
            "values": [34.5,102.4,170.3,238.2,306.1,374,441.9,509.8,577.7],
            "tickSize": -3, "tickWidth": 2, "tickColor": "black"
          }
        },
        "color": {
          "field": "s", "type": "nominal",
          "scale": {"domain": ["h","g","r"], "range": ["#000000","#008000","#ff0000"]},
          "legend": {
            "title": null, "labelLimit": 500,
            "labelExpr": "datum.value === 'h' ? 'High ablation in graphite' : datum.value === 'g' ? 'Low ablation in graphite' : 'Low ablation in C black'"
          }
        }
      }
    },
    {
      "data": {"name": "arrows"},
      "mark": {"type": "rule", "color": "black", "strokeWidth": 1},
      "encoding": {
        "x": {
          "field": "x", "type": "quantitative",
          "axis": {
            "orient": "top", "title": null, "labels": false, "domainColor": "black", "domainWidth": 2.5,
            "values": [-200,-180,-160,-140,-120,-100,-80,-60,-40,-20,0,20,40,60,80,100,120,140,160,180,200],
            "tickSize": -4, "tickWidth": 1.5, "tickColor": "black"
          }
        },
        "y": {
          "field": "y", "type": "quantitative",
          "axis": {
            "orient": "right", "offset": -6, "title": null, "labels": false, "domainColor": "black", "domainWidth": 2.5,
            "values": [20.4,40.8,61.1,81.5,101.9,122.3,142.7,163,183.4,203.8,224.2,244.6,264.9,285.3,305.7,326.1,346.5,366.8,387.2,407.6,428,448.4,468.7,489.1,509.5,529.9,550.2,570.6,591],
            "tickSize": -4, "tickWidth": 1.5, "tickColor": "black"
          }
        },
        "x2": {"field": "x2"},
        "y2": {"field": "y2"}
      }
    },
    {
      "data": {"name": "heads"},
      "mark": {"type": "point", "shape": "M0,-1L0.6,1L-0.6,1Z", "filled": true, "color": "black", "opacity": 1, "size": 190, "angle": 217},
      "encoding": {
        "x": {"field": "x", "type": "quantitative", "axis": null},
        "y": {"field": "y", "type": "quantitative", "axis": null}
      }
    },
    {
      "data": {"name": "labels"},
      "mark": {"type": "text", "font": "Liberation Sans", "fontSize": 27, "color": "black", "align": "center", "baseline": "middle"},
      "encoding": {
        "x": {"field": "x", "type": "quantitative", "axis": null},
        "y": {"field": "y", "type": "quantitative", "axis": null},
        "text": {"field": "t"}
      }
    }
  ],
  "resolve": {"axis": {"x": "independent", "y": "independent"}}
}
